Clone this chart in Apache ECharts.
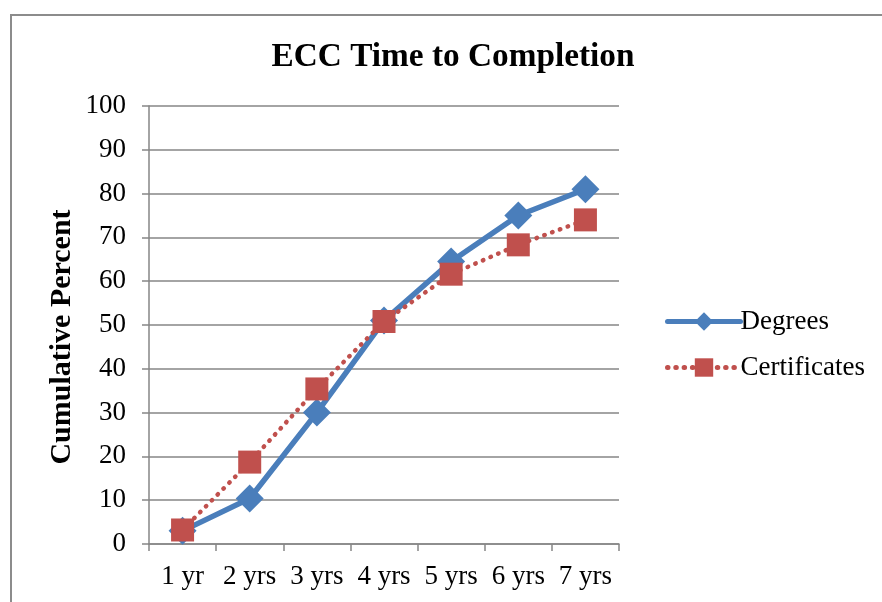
<!DOCTYPE html>
<html>
<head>
<meta charset="utf-8">
<script src="https://cdn.jsdelivr.net/npm/echarts@6/dist/echarts.min.js"></script>
<style>
  html, body { margin: 0; padding: 0; background: #fff; }
  #chart { width: 882px; height: 602px; }
</style>
</head>
<body>
<div id="chart"></div>
<script>
// Years to completion (categories)
const categories = ['1 yr', '2 yrs', '3 yrs', '4 yrs', '5 yrs', '6 yrs', '7 yrs'];
// Cumulative percent completing, by award type
const degrees = [3, 10.4, 30, 51, 64.5, 75, 81];
const certificates = [3.2, 18.7, 35.4, 50.8, 61.6, 68.3, 74];

const FONT = '"Liberation Serif", "Times New Roman", serif';
const BLUE = '#4a7ebb';
const RED = '#c0504d';
const GRID = '#868686';

const chart = echarts.init(document.getElementById('chart'), null, { renderer: 'canvas' });

chart.setOption({
  backgroundColor: '#fff',
  animation: false,
  title: {
    text: 'ECC Time to Completion',
    left: 448, top: 36, textAlign: 'center',
    textStyle: { fontFamily: FONT, fontSize: 33.3, fontWeight: 'bold', color: '#000' }
  },
  graphic: [
    {
      type: 'rect', silent: true, z: -1,
      shape: { x: 11, y: 15, width: 900, height: 620 },
      style: { fill: 'none', stroke: '#8c8c8c', lineWidth: 2 }
    },
    {
      type: 'text', silent: true,
      x: 62, y: 337, rotation: Math.PI / 2,
      style: {
        text: 'Cumulative Percent', fontFamily: FONT, fontSize: 30, fontWeight: 'bold',
        fill: '#000', align: 'center', verticalAlign: 'middle'
      }
    }
  ],
  legend: {
    orient: 'vertical',
    left: 660, top: 303,
    itemWidth: 73, itemHeight: 23, itemGap: 19,
    lineStyle: { width: 5 },
    textStyle: { fontFamily: FONT, fontSize: 27, color: '#000', padding: [0, 0, 0, -5] },
    data: ['Degrees', 'Certificates']
  },
  grid: { left: 149, right: 263, top: 106, bottom: 58, containLabel: false },
  xAxis: {
    type: 'category',
    data: categories,
    boundaryGap: true,
    axisLine: { lineStyle: { color: GRID, width: 1.5 } },
    axisTick: { show: true, interval: 0, length: 7, lineStyle: { color: GRID, width: 1.5 } },
    axisLabel: { interval: 0, fontFamily: FONT, fontSize: 27, color: '#000', margin: 19 }
  },
  yAxis: {
    type: 'value',
    min: 0, max: 100, interval: 10,
    axisLine: { show: true, lineStyle: { color: GRID, width: 1.5 } },
    axisTick: { show: true, length: 7, lineStyle: { color: GRID, width: 1.5 } },
    axisLabel: { fontFamily: FONT, fontSize: 27, color: '#000', margin: 23 },
    splitLine: { lineStyle: { color: GRID, width: 1.5 } }
  },
  series: [
    {
      name: 'Degrees',
      type: 'line',
      data: degrees,
      symbol: 'diamond',
      symbolSize: 28,
      itemStyle: { color: BLUE },
      lineStyle: { color: BLUE, width: 5.5, cap: 'round', join: 'round' },
      z: 2
    },
    {
      name: 'Certificates',
      type: 'line',
      data: certificates,
      symbol: 'rect',
      symbolSize: 23,
      itemStyle: { color: RED },
      lineStyle: { color: RED, width: 4.5, type: [0.5, 7.8], cap: 'round' },
      z: 3
    }
  ]
});
</script>
</body>
</html>
